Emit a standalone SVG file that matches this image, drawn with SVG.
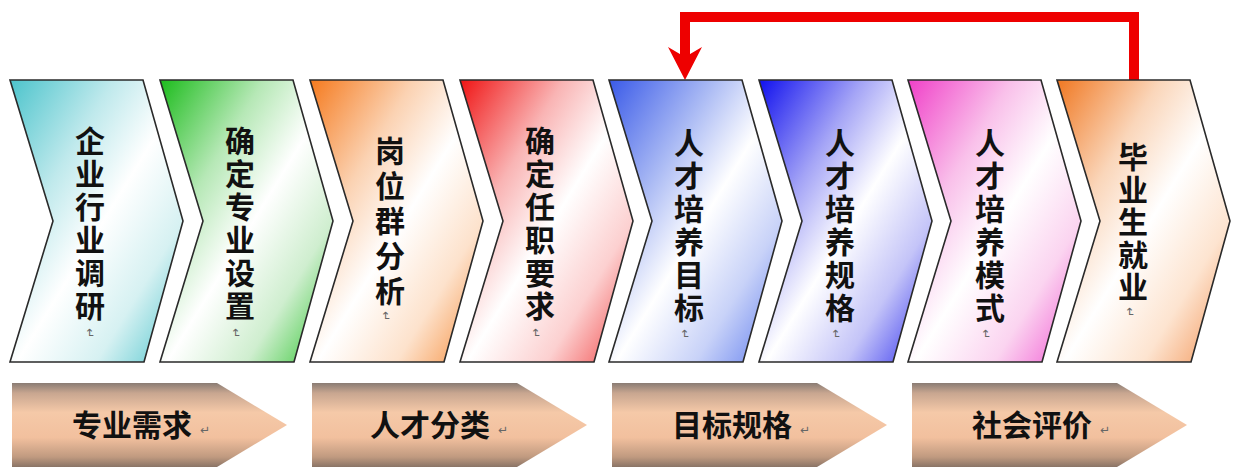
<svg xmlns="http://www.w3.org/2000/svg" width="1235" height="470" viewBox="0 0 1235 470">
<style>
.chev{stroke:#2a2a2a;stroke-width:1.6;stroke-linejoin:miter}
.vt{font-family:"Noto Sans CJK SC","Noto Sans CJK JP",sans-serif;font-size:30px;font-weight:bold;fill:#111;text-anchor:middle;writing-mode:vertical-rl;letter-spacing:3px}
.bt{font-family:"Noto Sans CJK SC","Noto Sans CJK JP",sans-serif;font-size:30px;font-weight:bold;fill:#111;text-anchor:middle;dominant-baseline:central}
.pm{font-family:"DejaVu Sans",sans-serif;font-size:12px;fill:#666;text-anchor:middle;dominant-baseline:central}
.band{fill:url(#gBand)}
.conn{fill:none;stroke:#ee0000;stroke-width:10;stroke-linejoin:miter}
</style>
<defs>
<linearGradient id="g1" x1="0" y1="0" x2="1" y2="1"><stop offset="0" stop-color="#4cc4cc"/><stop offset="0.3" stop-color="#bfe9ec"/><stop offset="0.52" stop-color="#ffffff"/><stop offset="0.75" stop-color="#d6f1f2"/><stop offset="1" stop-color="#4cc4cc"/></linearGradient>
<linearGradient id="g2" x1="0" y1="0" x2="1" y2="1"><stop offset="0" stop-color="#1cbc1c"/><stop offset="0.3" stop-color="#b6e8b6"/><stop offset="0.52" stop-color="#ffffff"/><stop offset="0.75" stop-color="#cfeecf"/><stop offset="1" stop-color="#2cc42c"/></linearGradient>
<linearGradient id="g3" x1="0" y1="0" x2="1" y2="1"><stop offset="0" stop-color="#f57a1e"/><stop offset="0.3" stop-color="#fbd2b2"/><stop offset="0.52" stop-color="#ffffff"/><stop offset="0.75" stop-color="#fde2cc"/><stop offset="1" stop-color="#f58a36"/></linearGradient>
<linearGradient id="g4" x1="0" y1="0" x2="1" y2="1"><stop offset="0" stop-color="#f01414"/><stop offset="0.3" stop-color="#f9b4b4"/><stop offset="0.52" stop-color="#ffffff"/><stop offset="0.75" stop-color="#fcd0d0"/><stop offset="1" stop-color="#f04040"/></linearGradient>
<linearGradient id="g5" x1="0" y1="0" x2="1" y2="1"><stop offset="0" stop-color="#3a5ae8"/><stop offset="0.3" stop-color="#a9b9f4"/><stop offset="0.52" stop-color="#ffffff"/><stop offset="0.75" stop-color="#c8d2f8"/><stop offset="1" stop-color="#5a78ee"/></linearGradient>
<linearGradient id="g6" x1="0" y1="0" x2="1" y2="1"><stop offset="0" stop-color="#1010ee"/><stop offset="0.3" stop-color="#a4a4f6"/><stop offset="0.52" stop-color="#ffffff"/><stop offset="0.75" stop-color="#c4c4f8"/><stop offset="1" stop-color="#2a2aee"/></linearGradient>
<linearGradient id="g7" x1="0" y1="0" x2="1" y2="1"><stop offset="0" stop-color="#f040c8"/><stop offset="0.3" stop-color="#f9c0ea"/><stop offset="0.52" stop-color="#ffffff"/><stop offset="0.75" stop-color="#fbd4f0"/><stop offset="1" stop-color="#f050d0"/></linearGradient>
<linearGradient id="g8" x1="0" y1="0" x2="1" y2="1"><stop offset="0" stop-color="#f07822"/><stop offset="0.3" stop-color="#fad6ba"/><stop offset="0.52" stop-color="#ffffff"/><stop offset="0.75" stop-color="#fde4d0"/><stop offset="1" stop-color="#f29050"/></linearGradient>
<linearGradient id="gBand" x1="0" y1="0" x2="0" y2="1"><stop offset="0" stop-color="#8a7c74"/><stop offset="0.12" stop-color="#c8a690"/><stop offset="0.35" stop-color="#f5c9a8"/><stop offset="0.65" stop-color="#f2c09e"/><stop offset="0.88" stop-color="#c09a80"/><stop offset="1" stop-color="#8a7466"/></linearGradient>
</defs>

<g id="connectors">
<path class="conn" d="M1134,80 L1134,17 L685,17 L685,58"/>
<polygon points="668,47 685,57 702,47 685,80" fill="#ee0000"/>
</g>

<g id="n1"><path class="chev" fill="url(#g1)" d="M10,80 L143,80 L183,221 L144,362 L10,362 L53,221 Z"/>
<text class="vt" x="90" y="225">企业行业调研</text>
<text class="pm" transform="translate(90,333) rotate(90)">↵</text></g>

<g id="n2"><path class="chev" fill="url(#g2)" d="M160,80 L293,80 L333,221 L294,362 L160,362 L203,221 Z"/>
<text class="vt" x="240" y="225">确定专业设置</text>
<text class="pm" transform="translate(236,333) rotate(90)">↵</text></g>

<g id="n3"><path class="chev" fill="url(#g3)" d="M310,80 L443,80 L483,221 L444,362 L310,362 L353,221 Z"/>
<text class="vt" x="390" y="223" style="letter-spacing:5px">岗位群分析</text>
<text class="pm" transform="translate(386,316) rotate(90)">↵</text></g>

<g id="n4"><path class="chev" fill="url(#g4)" d="M460,80 L593,80 L633,221 L594,362 L460,362 L503,221 Z"/>
<text class="vt" x="540" y="225">确定任职要求</text>
<text class="pm" transform="translate(536,333) rotate(90)">↵</text></g>

<g id="n5"><path class="chev" fill="url(#g5)" d="M609,80 L742,80 L782,221 L743,362 L609,362 L652,221 Z"/>
<text class="vt" x="689" y="227">人才培养目标</text>
<text class="pm" transform="translate(685,334) rotate(90)">↵</text></g>

<g id="n6"><path class="chev" fill="url(#g6)" d="M759,80 L892,80 L932,221 L893,362 L759,362 L802,221 Z"/>
<text class="vt" x="840" y="227">人才培养规格</text>
<text class="pm" transform="translate(836,334) rotate(90)">↵</text></g>

<g id="n7"><path class="chev" fill="url(#g7)" d="M908,80 L1041,80 L1081,221 L1042,362 L908,362 L951,221 Z"/>
<text class="vt" x="990" y="227">人才培养模式</text>
<text class="pm" transform="translate(986,334) rotate(90)">↵</text></g>

<g id="n8"><path class="chev" fill="url(#g8)" d="M1057,80 L1190,80 L1230,221 L1191,362 L1057,362 L1100,221 Z"/>
<text class="vt" x="1133" y="223" style="letter-spacing:2.5px">毕业生就业</text>
<text class="pm" transform="translate(1130,312) rotate(90)">↵</text></g>

<g id="b1"><path class="band" d="M12,383 L217,383 L287,425 L217,467 L12,467 Z"/>
<text class="bt" x="132" y="423">专业需求</text><text class="pm" x="205" y="430">↵</text></g>
<g id="b2"><path class="band" d="M312,383 L517,383 L587,425 L517,467 L312,467 Z"/>
<text class="bt" x="430" y="423">人才分类</text><text class="pm" x="503" y="430">↵</text></g>
<g id="b3"><path class="band" d="M612,383 L817,383 L887,425 L817,467 L612,467 Z"/>
<text class="bt" x="732" y="423">目标规格</text><text class="pm" x="805" y="430">↵</text></g>
<g id="b4"><path class="band" d="M912,383 L1117,383 L1187,425 L1117,467 L912,467 Z"/>
<text class="bt" x="1032" y="423">社会评价</text><text class="pm" x="1105" y="430">↵</text></g>
</svg>
